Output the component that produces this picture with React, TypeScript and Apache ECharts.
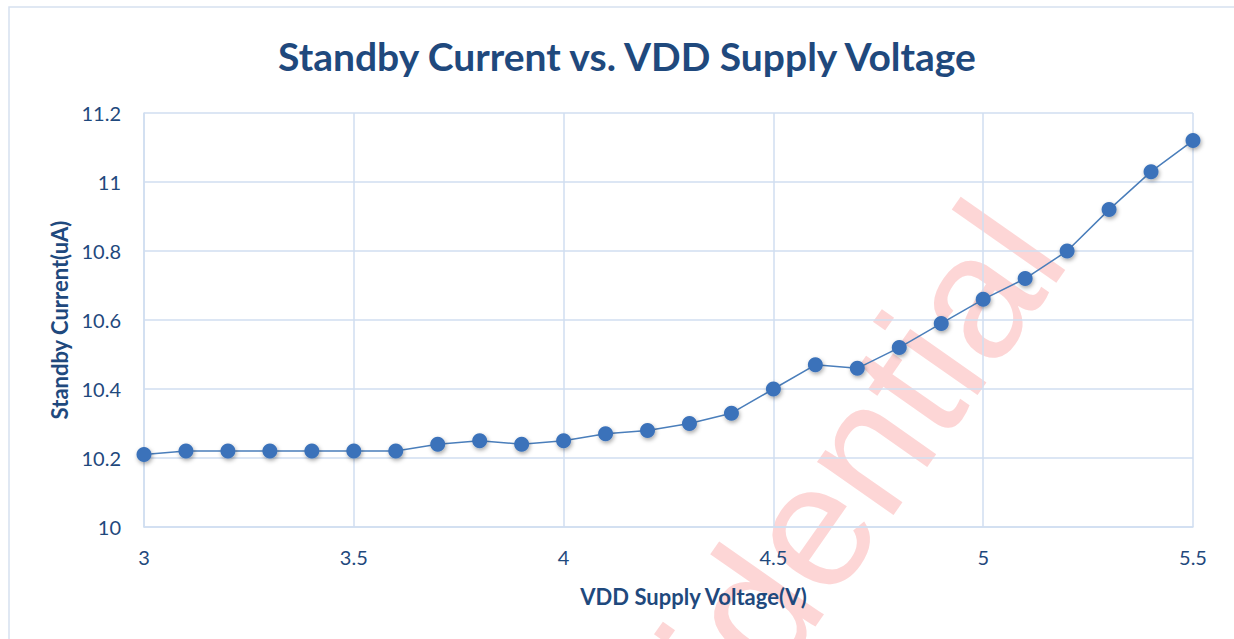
import React, { useEffect, useRef } from "react";
import * as echarts from "echarts";

const voltages = [3, 3.1, 3.2, 3.3, 3.4, 3.5, 3.6, 3.7, 3.8, 3.9, 4, 4.1, 4.2, 4.3, 4.4, 4.5, 4.6, 4.7, 4.8, 4.9, 5, 5.1, 5.2, 5.3, 5.4, 5.5];
const currents = [10.21, 10.22, 10.22, 10.22, 10.22, 10.22, 10.22, 10.24, 10.25, 10.24, 10.25, 10.27, 10.28, 10.3, 10.33, 10.4, 10.47, 10.46, 10.52, 10.59, 10.66, 10.72, 10.8, 10.92, 11.03, 11.12];

const TITLE = "Standby Current vs. VDD Supply Voltage";
const X_NAME = "VDD Supply Voltage(V)";
const Y_NAME = "Standby Current(uA)";
const WATERMARK = "Confidential";

const FONT = "Lato, 'Open Sans', sans-serif";
const TEXT_COLOR = "#1f497d";
const GRID_COLOR = "#d0def1";

export default function App() {
  const ref = useRef<HTMLDivElement>(null);
  useEffect(() => {
    if (!ref.current) return;
    const chart = echarts.init(ref.current, null, { renderer: "svg" });
    chart.setOption({
      animation: false,
      backgroundColor: "#ffffff",
      title: {
        text: TITLE,
        left: 622,
        textAlign: "center",
        top: 31,
        textStyle: { fontFamily: FONT, fontSize: 39, fontWeight: "bold", color: TEXT_COLOR },
      },
      graphic: [
        {
          type: "rect",
          z: -20,
          shape: { x: 9, y: 7, width: 1240, height: 660 },
          style: { fill: "none", stroke: "#d6e1f0", lineWidth: 1.5 },
        },
        {
          type: "text",
          z: -10,
          x: 1094,
          y: 276,
          rotation: (55 * Math.PI) / 180,
          style: {
            text: WATERMARK,
            fontFamily: "'Liberation Sans', Arial, sans-serif",
            fontSize: 176,
            fill: "#fdd6d6",
            textAlign: "right",
            textVerticalAlign: "bottom",
          },
        },
      ],
      grid: {
        left: 144,
        right: 41,
        top: 113,
        bottom: 112,
      },
      xAxis: {
        type: "value",
        min: 3,
        max: 5.5,
        interval: 0.5,
        name: X_NAME,
        nameLocation: "middle",
        nameGap: 58,
        nameTextStyle: {
          fontFamily: FONT,
          fontSize: 22,
          fontWeight: "bold",
          color: TEXT_COLOR,
          padding: [0, 0, 0, 50],
        },
        axisLine: { lineStyle: { color: GRID_COLOR, width: 1.5 } },
        axisTick: { show: false },
        axisLabel: { fontFamily: FONT, fontSize: 20, color: TEXT_COLOR, margin: 20 },
        splitLine: { show: true, lineStyle: { color: GRID_COLOR, width: 1.5 } },
      },
      yAxis: {
        type: "value",
        min: 10,
        max: 11.2,
        interval: 0.2,
        name: Y_NAME,
        nameLocation: "middle",
        nameGap: 74,
        nameRotate: 90,
        nameTextStyle: { fontFamily: FONT, fontSize: 22, fontWeight: "bold", color: TEXT_COLOR },
        axisLine: { show: true, lineStyle: { color: GRID_COLOR, width: 1.5 } },
        axisTick: { show: false },
        axisLabel: {
          fontFamily: FONT,
          fontSize: 20,
          color: TEXT_COLOR,
          margin: 23,
          formatter: (v: number) => String(Math.round(v * 10) / 10),
        },
        splitLine: { show: true, lineStyle: { color: GRID_COLOR, width: 1.5 } },
      },
      series: [
        {
          type: "line",
          data: voltages.map((v, i) => [v, currents[i]]),
          symbol: "circle",
          symbolSize: 15,
          lineStyle: { color: "#4a7ebb", width: 1.5 },
          itemStyle: {
            color: "#3b72ba",
            shadowBlur: 4,
            shadowOffsetX: 1,
            shadowOffsetY: 2,
            shadowColor: "rgba(0,0,0,0.35)",
          },
        },
      ],
    });
    return () => chart.dispose();
  }, []);
  return (
    <div
      ref={ref}
      style={{ position: "absolute", left: 0, top: 0, width: 1234, height: 639 }}
    />
  );
}
